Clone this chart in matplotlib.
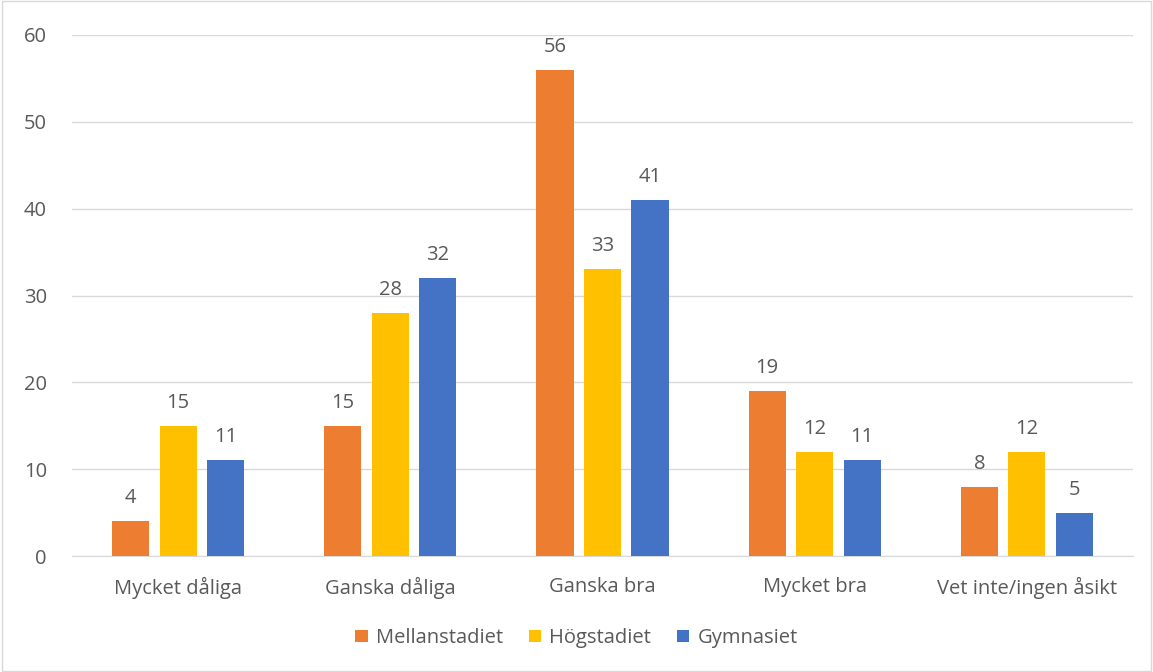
import matplotlib.pyplot as plt
import numpy as np
from matplotlib.patches import Rectangle

categories = ["Mycket dåliga", "Ganska dåliga", "Ganska bra", "Mycket bra", "Vet inte/ingen åsikt"]
series_names = ["Mellanstadiet", "Högstadiet", "Gymnasiet"]
mellanstadiet = [4, 15, 56, 19, 8]
hogstadiet = [15, 28, 33, 12, 12]
gymnasiet = [11, 32, 41, 11, 5]
yticks = [0, 10, 20, 30, 40, 50, 60]

colors = ["#ED7D31", "#FFC000", "#4472C4"]
txt = "#595959"

plt.rcParams['font.family'] = ['Open Sans', 'DejaVu Sans']
fs = 14.5

fig = plt.figure(figsize=(11.53, 6.72), dpi=100)
ax = fig.add_axes([72/1153, 1-556/672, (1133-72)/1153, (556-35)/672])

x = np.arange(len(categories))
w = 0.175
off = 0.224
for i, (vals, c, name) in enumerate(zip([mellanstadiet, hogstadiet, gymnasiet], colors, series_names)):
    pos = x + (i-1)*off
    ax.bar(pos, vals, width=w, color=c, label=name, zorder=3)
    for p, v in zip(pos, vals):
        ax.text(p, v + 1.5, str(v), ha='center', va='bottom', fontsize=fs, color=txt)

ax.set_xlim(-0.5, len(categories)-0.5)
ax.set_ylim(0, 60)
ax.set_yticks(yticks)
ax.set_yticklabels([str(t) for t in yticks])
ax.set_xticks(x)
ax.set_xticklabels(categories)
ax.tick_params(axis='both', length=0, labelsize=fs, colors=txt)
ax.tick_params(axis='y', pad=18)
ax.tick_params(axis='x', pad=15)
ax.grid(axis='y', color='#D9D9D9', linewidth=1, zorder=0)
for s in ['top', 'right', 'left']:
    ax.spines[s].set_visible(False)
ax.spines['bottom'].set_color('#D9D9D9')

leg = fig.legend(loc='center', bbox_to_anchor=(0.5, 1-638/672), ncol=3, frameon=False,
                 fontsize=fs, handlelength=0.6, handleheight=0.6, handletextpad=0.4,
                 columnspacing=1.3)
for t in leg.get_texts():
    t.set_color(txt)

fig.patches.append(Rectangle((0.002, 0.002), 0.996, 0.996, transform=fig.transFigure,
                             fill=False, edgecolor='#D9D9D9', linewidth=1))

fig.savefig('out.png', dpi=100)
